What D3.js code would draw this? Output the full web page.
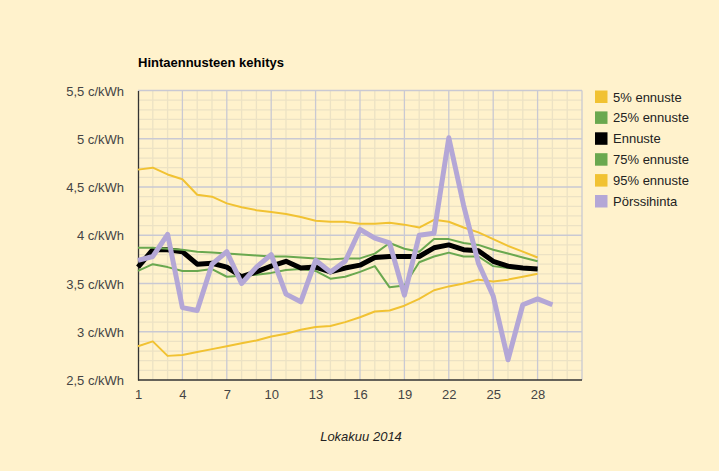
<!DOCTYPE html>
<html>
<head>
<meta charset="utf-8">
<script src="https://cdn.jsdelivr.net/npm/d3@7"></script>
<style>
  html, body { margin: 0; padding: 0; background: #fff2cc; }
  svg { display: block; font-family: Arial, "Liberation Sans", sans-serif; }
</style>
</head>
<body>
<svg class="chart"></svg>
<script>
// paivat (Lokakuu 2014)
let days = d3.range(1, 30);
let xTicks = [1, 4, 7, 10, 13, 16, 19, 22, 25, 28];
let yTicks = [2.5, 3, 3.5, 4, 4.5, 5, 5.5];

let p5 = [2.85, 2.90, 2.75, 2.76, 2.79, 2.82, 2.85, 2.88, 2.91, 2.95, 2.98, 3.02, 3.05, 3.06, 3.10,
  3.15, 3.21, 3.22, 3.27, 3.34, 3.43, 3.47, 3.50, 3.54, 3.52, 3.54, 3.57, 3.60];
let p25 = [3.63, 3.70, 3.67, 3.63, 3.63, 3.65, 3.57, 3.58, 3.59, 3.61, 3.64, 3.65, 3.63, 3.55, 3.57,
  3.62, 3.68, 3.46, 3.48, 3.72, 3.78, 3.82, 3.78, 3.78, 3.68, 3.66, 3.65, 3.64];
let ennuste = [3.67, 3.85, 3.85, 3.83, 3.70, 3.71, 3.67, 3.57, 3.62, 3.68, 3.73, 3.66, 3.67, 3.62, 3.66,
  3.69, 3.77, 3.78, 3.78, 3.78, 3.87, 3.90, 3.85, 3.84, 3.73, 3.68, 3.66, 3.65];
let p75 = [3.87, 3.87, 3.86, 3.85, 3.83, 3.82, 3.81, 3.80, 3.79, 3.78, 3.78, 3.77, 3.76, 3.75, 3.76,
  3.76, 3.81, 3.92, 3.86, 3.83, 3.96, 3.96, 3.92, 3.90, 3.85, 3.81, 3.77, 3.73];
let p95 = [4.68, 4.70, 4.63, 4.58, 4.42, 4.40, 4.33, 4.29, 4.26, 4.24, 4.22, 4.19, 4.15, 4.14, 4.14,
  4.12, 4.12, 4.13, 4.11, 4.08, 4.16, 4.14, 4.08, 4.03, 3.96, 3.89, 3.83, 3.77];
let porssi = [3.74, 3.78, 4.01, 3.25, 3.22, 3.70, 3.83, 3.50, 3.67, 3.80, 3.39, 3.31, 3.74, 3.62, 3.73,
  4.06, 3.97, 3.92, 3.38, 4.00, 4.02, 5.01, 4.31, 3.71, 3.37, 2.71, 3.28, 3.34, 3.28];

let series = [
  {"name": "5% ennuste", "values": p5, "color": "#f1c232", "w": 2},
  {"name": "25% ennuste", "values": p25, "color": "#6aa84f", "w": 2},
  {"name": "Ennuste", "values": ennuste, "color": "#000000", "w": 5},
  {"name": "75% ennuste", "values": p75, "color": "#6aa84f", "w": 2},
  {"name": "95% ennuste", "values": p95, "color": "#f1c232", "w": 2},
  {"name": "Pörssihinta", "values": porssi, "color": "#b4a7d6", "w": 5}
];

let width = 719;
let height = 471;
let svg = d3.select(".chart").attr("width", width).attr("height", height);

let x = d3.scaleLinear().domain([1, 31]).range([138, 582]);
let y = d3.scaleLinear().domain([2.5, 5.5]).range([380, 90.5]);

svg.append("rect").attr("width", width).attr("height", height).attr("fill", "#fff2cc");

// minor grid
svg.append("g").selectAll("line")
  .data(d3.range(2, 32).filter(d => (d - 1) % 3 != 0))
  .enter().append("line")
  .attr("x1", d => x(d)).attr("x2", d => x(d))
  .attr("y1", y(5.5)).attr("y2", y(2.5))
  .attr("stroke", "#ece2c4").attr("stroke-width", 1.3);
svg.append("g").selectAll("line")
  .data(d3.range(25, 56).filter(d => d % 5 != 0).map(d => d / 10))
  .enter().append("line")
  .attr("x1", x(1)).attr("x2", x(31))
  .attr("y1", d => y(d)).attr("y2", d => y(d))
  .attr("stroke", "#ece2c4").attr("stroke-width", 1.3);

// major grid
svg.append("g").selectAll("line")
  .data(d3.range(4, 32, 3))
  .enter().append("line")
  .attr("x1", d => x(d)).attr("x2", d => x(d))
  .attr("y1", y(5.5)).attr("y2", y(2.5))
  .attr("stroke", "#c9c9d3").attr("stroke-width", 1.3);
svg.append("g").selectAll("line")
  .data(yTicks.slice(1))
  .enter().append("line")
  .attr("x1", x(1)).attr("x2", x(31))
  .attr("y1", d => y(d)).attr("y2", d => y(d))
  .attr("stroke", "#c9c9d3").attr("stroke-width", 1.3);

// axes
let xAxis = svg.append("g")
  .attr("transform", "translate(0," + y(2.5) + ")")
  .call(d3.axisBottom(x).tickValues(xTicks).tickSize(0).tickPadding(10).tickFormat(d3.format("d")));
let yAxis = svg.append("g")
  .attr("transform", "translate(" + x(1) + ",0)")
  .call(d3.axisLeft(y).tickValues(yTicks).tickSize(0).tickPadding(14)
    .tickFormat(d => String(d).replace(".", ",") + " c/kWh"));
[xAxis, yAxis].forEach(function(a) {
  a.select(".domain").attr("stroke", "#333").attr("stroke-width", 1.3);
  a.selectAll("text").attr("fill", "#444").style("font-size", "13px")
    .style("font-family", "Arial, 'Liberation Sans', sans-serif");
});
yAxis.selectAll("text").attr("dy", "0.35em");
xAxis.select(".domain").attr("d", "M" + x(1) + ",0H" + x(31));

// lines
let line = d3.line()
  .x((d, i) => x(days[i]))
  .y(d => y(d));
svg.append("g").selectAll("path")
  .data(series)
  .enter().append("path")
  .attr("d", d => line(d.values))
  .attr("fill", "none")
  .attr("stroke", d => d.color)
  .attr("stroke-width", d => d.w)
  .attr("stroke-linejoin", "round");

// title
svg.append("text")
  .attr("x", 138).attr("y", 67)
  .style("font-size", "13px").style("font-weight", "bold")
  .attr("fill", "#000")
  .text("Hintaennusteen kehitys");

// x title
svg.append("text")
  .attr("x", 361).attr("y", 441)
  .attr("text-anchor", "middle")
  .style("font-size", "13px").style("font-style", "italic")
  .attr("fill", "#222")
  .text("Lokakuu 2014");

// legend
let legend = svg.append("g").selectAll("g")
  .data(series)
  .enter().append("g")
  .attr("transform", (d, i) => "translate(595," + (90.5 + i * 20.9) + ")");
legend.append("rect")
  .attr("width", 12.5).attr("height", 12.5)
  .attr("fill", d => d.color);
legend.append("text")
  .attr("x", 18).attr("y", 6.5).attr("dy", "0.35em")
  .style("font-size", "13px").attr("fill", "#222")
  .text(d => d.name);
</script>
</body>
</html>
